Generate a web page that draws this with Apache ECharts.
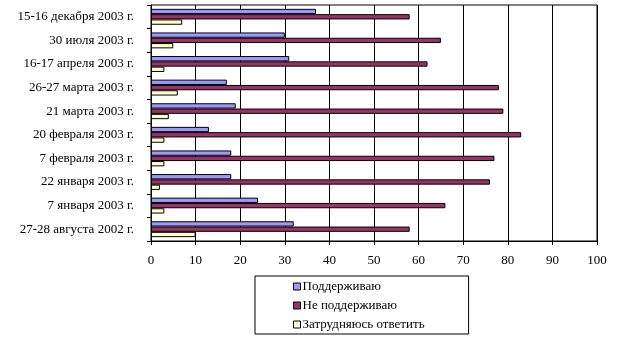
<!DOCTYPE html>
<html><head><meta charset="utf-8">
<script src="https://cdn.jsdelivr.net/npm/echarts@6/dist/echarts.min.js"></script>
<style>html,body{margin:0;padding:0;background:#fff}#c{width:624px;height:343px}</style>
</head><body><div id="c"></div>
<script>
const categories = ['15-16 декабря 2003 г.','30 июля 2003 г.','16-17 апреля 2003 г.','26-27 марта 2003 г.','21 марта 2003 г.','20 февраля 2003 г.','7 февраля 2003 г.','22 января 2003 г.','7 января 2003 г.','27-28 августа 2002 г.'];
const support    = [37,30,31,17,19,13,18,18,24,32];
const notSupport = [58,65,62,78,79,83,77,76,66,58];
const hardToSay  = [7,5,3,6,4,3,3,2,3,10];
const seriesNames = ['Поддерживаю','Не поддерживаю','Затрудняюсь ответить'];
const xTicks = [0,10,20,30,40,50,60,70,80,90,100];

const font = 'Liberation Serif';
const colors = ['#9999FF','#993366','#FFFFCC'];
const vals = [support, notSupport, hardToSay];
const chart = echarts.init(document.getElementById('c'), null, {renderer:'canvas'});
chart.setOption({
  animation:false,
  grid:{left:151,right:27,top:5,bottom:102,show:true,borderColor:'#000',borderWidth:1,backgroundColor:'#fff'},
  xAxis:{type:'value',min:xTicks[0],max:xTicks[xTicks.length-1],interval:10,
    axisLine:{show:true,lineStyle:{color:'#000'}},
    axisTick:{show:true,length:4,lineStyle:{color:'#000'}},
    axisLabel:{color:'#000',fontFamily:font,fontSize:13,margin:13},
    splitLine:{show:true,lineStyle:{color:'#000',width:1}}},
  yAxis:{type:'category',data:categories,inverse:true,
    axisLine:{show:true,lineStyle:{color:'#000'}},
    axisTick:{show:true,length:4,inside:false,lineStyle:{color:'#000'}},
    axisLabel:{color:'#000',fontFamily:font,fontSize:13,margin:17}},
  legend:{orient:'vertical',left:255,top:276,padding:[4,44,3,38],itemGap:6,
    borderColor:'#000',borderWidth:1,itemWidth:7,itemHeight:7,
    itemStyle:{borderColor:'#000',borderWidth:1},
    textStyle:{color:'#000',fontFamily:font,fontSize:13,padding:[0,0,0,-3]},
    data:seriesNames.map(n=>({name:n,icon:'rect'}))},
  series: seriesNames.map((n,i)=>({name:n,type:'bar',data:vals[i],barWidth:5.3,barGap:'0%',
    itemStyle:{color:colors[i],borderColor:'#000',borderWidth:1}}))
});
</script></body></html>
